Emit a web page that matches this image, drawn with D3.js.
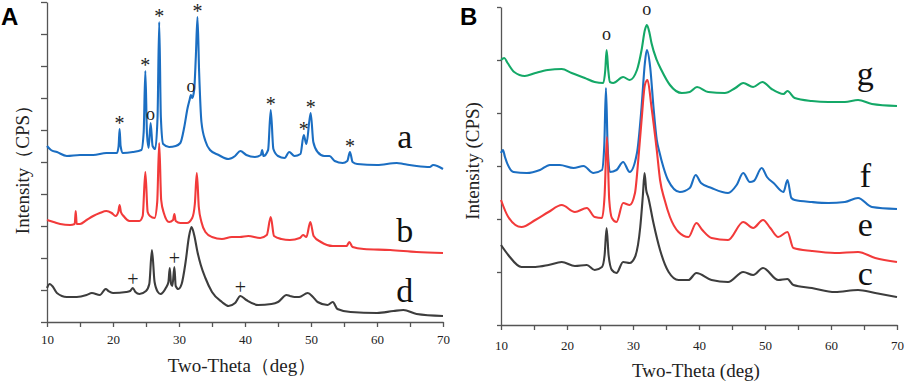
<!DOCTYPE html>
<html>
<head>
<meta charset="utf-8">
<script src="https://cdn.jsdelivr.net/npm/d3@7"></script>
<style>
body { margin:0; background:#fff; }
svg text { font-family:"Liberation Serif","Times New Roman",serif; }
.axis path, .axis line { stroke:#555; stroke-width:1.3; }
.axis text { fill:#222; font-size:13px; font-family:"Liberation Serif",serif; }
.xrd-line { fill:none; stroke-width:2.1; stroke-linejoin:round; }
svg text.tag { font-family:"Liberation Sans",Arial,sans-serif; font-weight:bold; }
</style>
</head>
<body>
<svg id="chart" width="906" height="384"></svg>
<script>
/* x ticks (two-theta, deg) */
var thetaTicks = [10,15,20,25,30,35,40,45,50,55,60,65,70]

/* panel A curves : [two-theta, counts] */
var curveA_a = [[10,176],[10.6,172],[11.5,170],[13,166],[15,167],[17,167],[19,169],[20.6,169],[20.85,176],[21.0,193],[21.15,176],[21.5,169],[23,170],[24.3,172],[24.65,190],[24.9,251],[25.15,188],[25.4,174],[25.7,199],[26.0,176],[26.4,173],[26.75,205],[27.0,300],[27.25,205],[27.6,178],[28.5,175],[29.5,176],[30.2,179],[30.8,195],[31.3,214],[31.6,222],[31.8,227],[32.0,224],[32.3,232],[32.55,265],[32.8,305],[33.05,250],[33.4,200],[34.0,181],[34.7,172],[36,167],[37.5,163],[38.5,166],[39.3,171],[40.2,167],[41.5,165],[42.4,167],[42.6,172],[42.8,166],[43.5,172],[43.9,212],[44.3,173],[45,166],[46,164],[46.7,170],[47.5,166],[48.4,168],[48.9,187],[49.3,178],[49.95,209],[50.35,180],[51,170],[52,166],[52.8,166],[53.6,161],[54.8,159],[55.5,161],[55.9,170],[56.3,160],[57,158],[60,157],[63,159],[64,158],[66,156],[68,155],[68.5,157],[70,153]]
var curveA_b = [[10,102],[11,100],[12,98],[13.5,97],[14.2,98],[14.35,111],[14.5,98],[15,98],[16,102],[17,106],[18,109],[19,111],[19.8,109],[20.4,106],[20.8,110],[21.0,117],[21.2,110],[21.6,106],[22.5,101],[24,101],[24.5,106],[24.9,150],[25.25,110],[25.6,106],[26.3,104],[26.7,120],[27.0,179],[27.3,122],[27.7,109],[28.5,100],[29.1,102],[29.3,108],[29.5,101],[30.2,99],[31.2,99],[32.0,104],[32.4,118],[32.7,149],[33.0,115],[33.4,100],[34,90],[35,85],[36.5,83],[38,85],[39.2,85],[40.5,86],[42.3,84],[43.3,87],[43.9,105],[44.4,86],[45.5,83],[46.8,82],[48.3,84],[48.8,87],[49.3,85],[49.9,100],[50.4,86],[51.5,80],[53.3,76],[55.4,76],[55.8,80],[56.3,75],[58,73],[62,72],[66,70],[70,69]]
var curveA_d = [[10,34],[10.4,38],[10.8,36],[11.5,29],[13,25],[14.5,25],[16,27],[16.8,29],[18,27],[18.9,33],[19.3,31],[20,29],[22,30],[22.6,31],[23,34],[23.4,30],[24,28],[25,31],[25.5,38],[25.9,72],[26.3,40],[26.8,30],[27.2,28],[28,34],[28.4,40],[28.6,54],[28.8,38],[29.0,36],[29.3,55],[29.5,36],[29.9,33],[30.4,38],[31,60],[31.5,85],[31.9,95],[32.3,87],[32.8,70],[33.3,57],[34,44],[35,30],[36.5,20],[37.5,16],[38.5,19],[39.3,26],[40.2,22],[42,17],[44,18],[45,20],[46.3,27],[46.8,26],[47.5,25],[48.2,25],[49.5,29],[50.3,25],[51,20],[52.5,17],[53.3,20],[54,13],[56,10],[60,9],[62.5,11],[64,12],[66,8],[70,6]]

/* panel B curves */
var curveB_g = [[10,265],[10.5,267],[11,262],[12,253],[13.6,249],[15.2,252],[17.1,255],[19.2,256],[20.7,252],[22.7,247],[24.2,243],[25.5,242],[25.8,255],[26.0,275],[26.25,255],[26.5,243],[27.0,242],[28.5,248],[29.5,245],[30.6,255],[31.3,275],[31.8,295],[32.1,300],[32.5,292],[32.8,282],[33.6,265],[34.3,255],[35.6,240],[37.4,232],[38.6,233],[39.7,238],[41.4,233],[43.9,232],[45.5,237],[46.7,242],[48.2,238],[49.6,243],[51.0,236],[52.8,231],[53.4,234],[54.5,227],[57.1,224],[59.6,223],[62.1,223],[64.1,225],[66.2,221],[70,219]]
var curveB_f = [[10,172],[10.3,175],[10.6,168],[11.9,153],[13.9,152],[15.9,155],[17.4,160],[18.9,160],[21.0,157],[22.5,159],[24.0,152],[25.3,155],[25.65,180],[25.9,237],[26.15,180],[26.5,153],[27.5,155],[28.5,163],[29.5,153],[30.6,172],[31.3,218],[31.8,262],[32.1,275],[32.6,258],[33.1,218],[33.6,185],[34.0,173],[34.6,158],[35.3,145],[37.1,133],[38.6,137],[39.5,150],[40.3,142],[41.9,137],[44.4,132],[45.7,140],[46.7,152],[47.7,143],[48.3,144],[49.5,157],[50.3,148],[51.3,142],[52.8,133],[53.4,145],[54.0,127],[54.5,125],[57.1,123],[59.6,122],[62.1,123],[64.1,127],[66.2,118],[70,116]]
var curveB_e = [[10,125],[11.1,108],[13.1,98],[15.2,105],[17.2,113],[19.2,120],[21.2,113],[23.0,117],[24.2,108],[25.3,107],[25.7,130],[26.05,188],[26.4,125],[26.8,107],[27.5,103],[28.5,122],[29.5,120],[30.3,132],[30.8,165],[31.3,205],[31.8,240],[32.2,245],[32.8,218],[33.6,175],[34.1,145],[34.8,125],[35.6,108],[36.9,93],[38.4,88],[39.6,102],[40.5,95],[41.9,87],[44.4,85],[46.7,103],[48.2,97],[49.7,105],[50.8,97],[52.0,88],[53.4,93],[54.3,77],[57.1,74],[60.6,72],[64.1,73],[66.7,67],[70,63]]
var curveB_c = [[10,80],[11.1,70],[13.1,58],[15.2,58],[17.2,60],[19.2,63],[21.2,59],[23.0,60],[24.2,55],[25.3,58],[25.7,70],[26.0,97],[26.3,70],[26.8,55],[27.5,52],[28.5,63],[29.5,62],[30.3,68],[31.1,98],[31.5,130],[31.75,152],[32.0,135],[32.3,128],[33.1,102],[34.1,75],[35.4,53],[36.9,45],[38.4,45],[39.6,52],[41.9,45],[44.4,43],[46.7,53],[48.2,50],[49.7,57],[52.0,45],[53.4,46],[54.3,40],[57.1,37],[60.6,33],[64.1,35],[66.7,32],[70,28]]

/* peak marks: [two-theta, symbol] */
var marksA_a = [[21,"*"],[24.9,"*"],[25.7,"o"],[27,"*"],[31.8,"o"],[32.8,"*"],[43.9,"*"],[48.9,"*"],[49.95,"*"],[55.9,"*"]]
var marksA_d = [[23,"+"],[29.3,"+"],[39.3,"+"]]
var marksB_g = [[26,"o"],[32.1,"o"]]

/* curve names: [name, two-theta, counts] */
var namesA = [["a",64.2,174],["b",64.2,80],["d",64.2,20]]
var namesB = [["g",65.2,240],["f",65.2,138],["e",65.2,89],["c",65.2,40]]

var blue = "#1b6ec2", red = "#f23a3a", green = "#14a867", grey = "#3d3d3d"

var svg = d3.select("#chart")

function drawPanel(p) {
  var g = svg.append("g")
  var x = d3.scaleLinear().domain([10,70]).range(p.xr)
  var y = d3.scaleLinear().domain(p.yd).range(p.yr)

  g.append("g")
    .attr("class","axis")
    .attr("transform","translate(0," + p.yr[0] + ")")
    .call(d3.axisBottom(x).tickValues(thetaTicks).tickSize(5).tickSizeOuter(0)
      .tickFormat(function(d) { return d % 10 == 0 ? d : "" }))
    .selectAll("text").attr("dy", p.tickDy)
  g.append("g")
    .attr("class","axis")
    .attr("transform","translate(" + p.xr[0] + ",0)")
    .call(d3.axisLeft(y).tickValues(d3.range(p.yd[0], p.yd[1] + 1, p.yStep)).tickSize(p.yTick).tickSizeOuter(0).tickFormat(""))

  var line = d3.line()
    .x(function(d) { return x(d[0]) })
    .y(function(d) { return y(d[1]) })
    .curve(d3.curveMonotoneX)

  p.curves.forEach(function(c) {
    g.append("path")
      .attr("class","xrd-line")
      .attr("stroke",c.color)
      .attr("d",line(c.data))
  })

  /* symbols over the peaks */
  p.marks.forEach(function(m) {
    m.list.forEach(function(k) {
      var near = m.data.filter(function(d) { return Math.abs(d[0] - k[0]) <= 0.3 })
      var top = d3.max(near, function(d) { return d[1] })
      g.append("text")
        .text(k[1])
        .attr("x",x(k[0]))
        .attr("y",y(top) + m.shift[k[1]])
        .attr("text-anchor","middle")
        .attr("font-size",k[1] == "o" ? 18 : 20)
        .attr("fill","#222")
    })
  })

  p.names.forEach(function(n) {
    g.append("text")
      .text(n[0])
      .attr("x",x(n[1]))
      .attr("y",y(n[2]))
      .attr("text-anchor","middle")
      .attr("font-size",34)
      .attr("fill","#111")
  })

  g.append("text")
    .text(p.xTitle)
    .attr("x",(p.xr[0] + p.xr[1]) / 2 - 3)
    .attr("y",p.xTitleY)
    .attr("text-anchor","middle")
    .attr("font-size",19)
    .attr("fill","#222")
  g.append("text")
    .text(p.yTitle)
    .attr("transform","translate(" + p.yTitleX + "," + p.yTitleMid + ") rotate(-90)")
    .attr("text-anchor","middle")
    .attr("font-size",19)
    .attr("fill","#222")
  g.append("text")
    .text(p.tag)
    .attr("class","tag")
    .attr("x",p.tagX)
    .attr("y",25)
    .attr("font-size",24)
    .attr("fill","#000")
}

drawPanel({
  tag:"A", tagX:1,
  xr:[47,443], yr:[322,2], yd:[0,320], yStep:32, yTick:6, tickDy:"1.05em",
  curves:[{data:curveA_a,color:blue},{data:curveA_b,color:red},{data:curveA_d,color:grey}],
  marks:[{data:curveA_a,list:marksA_a,shift:{"*":1,"o":-3}},{data:curveA_d,list:marksA_d,shift:{"+":-2}}],
  names:namesA,
  xTitle:"Two-Theta\uff08deg\uff09", xTitleY:372,
  yTitle:"Intensity\uff08CPS\uff09", yTitleX:29, yTitleMid:165
})
drawPanel({
  tag:"B", tagX:460,
  xr:[501,897], yr:[325,7], yd:[0,318], yStep:53, yTick:4, tickDy:"1.3em",
  curves:[{data:curveB_g,color:green},{data:curveB_f,color:blue},{data:curveB_e,color:red},{data:curveB_c,color:grey}],
  marks:[{data:curveB_g,list:marksB_g,shift:{"o":-10}}],
  names:namesB,
  xTitle:"Two-Theta (deg)", xTitleY:377,
  yTitle:"Intensity (CPS)", yTitleX:479, yTitleMid:161
})
</script>
</body>
</html>
